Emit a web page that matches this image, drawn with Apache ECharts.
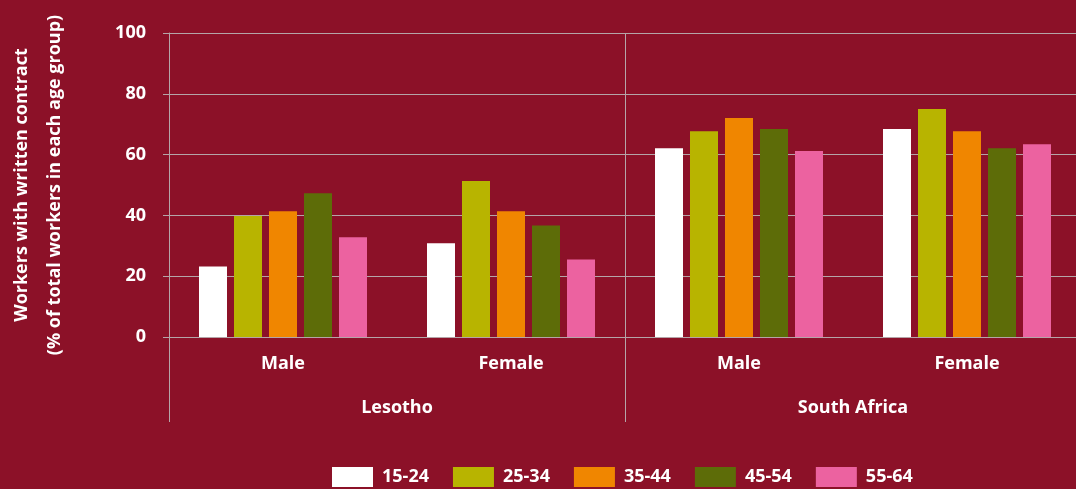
<!DOCTYPE html>
<html>
<head>
<meta charset="utf-8">
<style>
  html, body { margin: 0; padding: 0; background: #8c1128; }
  #chart { width: 1076px; height: 489px; }
</style>
<script src="https://cdn.jsdelivr.net/npm/echarts@6/dist/echarts.min.js"></script>
</head>
<body>
<div id="chart"></div>
<script>
const sexCategories = ['Male', 'Female', 'Male', 'Female'];
const countryCategories = ['Lesotho', 'South Africa'];
const ageGroups = ['15-24', '25-34', '35-44', '45-54', '55-64'];
const age15_24 = [23.2, 30.8, 62.1, 68.4];
const age25_34 = [39.8, 51.3, 67.7, 75.0];
const age35_44 = [41.4, 41.4, 72.0, 67.7];
const age45_54 = [47.3, 36.7, 68.4, 62.1];
const age55_64 = [32.8, 25.5, 61.2, 63.4];
const yTicks = { min: 0, max: 100, interval: 20 };

const colors = ['#ffffff', '#b8b400', '#f08600', '#5d6c08', '#ec62a0'];
const seriesValues = [age15_24, age25_34, age35_44, age45_54, age55_64];
const gridColor = '#b5a5a8';
const FONT = 'Open Sans';

const chart = echarts.init(document.getElementById('chart'));
chart.setOption({
  backgroundColor: '#8c1128',
  animation: false,
  textStyle: { fontFamily: FONT },
  color: colors,
  grid: { left: 169, top: 33, width: 912, height: 304, containLabel: false, outerBoundsMode: 'none' },
  legend: {
    left: 332, top: 467, padding: 0,
    itemWidth: 41, itemHeight: 20, itemGap: 24,
    icon: 'rect',
    textStyle: { color: '#ffffff', fontSize: 18, fontWeight: 'bold', fontFamily: FONT, padding: [0, 0, 0, 4] },
    data: ageGroups
  },
  xAxis: [
    {
      type: 'category',
      data: sexCategories,
      position: 'bottom',
      axisLine: { show: true, lineStyle: { color: gridColor, width: 1 } },
      axisTick: { show: false },
      axisLabel: { color: '#ffffff', fontSize: 18, fontWeight: 'bold', fontFamily: FONT, margin: 18 },
      splitLine: { show: false }
    },
    {
      type: 'category',
      data: countryCategories,
      position: 'bottom',
      axisLine: { show: false },
      axisTick: { show: true, length: 85, interval: 0, lineStyle: { color: gridColor, width: 1 } },
      axisLabel: { color: '#ffffff', fontSize: 18, fontWeight: 'bold', fontFamily: FONT, margin: 62 },
      splitLine: { show: true, interval: 0, lineStyle: { color: gridColor, width: 1 } }
    }
  ],
  yAxis: {
    type: 'value',
    min: yTicks.min, max: yTicks.max, interval: yTicks.interval,
    name: 'Workers with written contract\n(% of total workers in each age group)',
    nameLocation: 'middle',
    nameRotate: 90,
    nameGap: 98,
    nameTextStyle: { color: '#ffffff', fontSize: 18, fontWeight: 'bold', fontFamily: FONT, lineHeight: 33, align: 'center' },
    axisLine: { show: true, lineStyle: { color: gridColor, width: 1 } },
    axisTick: { show: true, length: 6, lineStyle: { color: gridColor, width: 1 } },
    axisLabel: { color: '#ffffff', fontSize: 18, fontWeight: 'bold', fontFamily: FONT, margin: 23 },
    splitLine: { show: true, lineStyle: { color: gridColor, width: 1 } }
  },
  series: ageGroups.map((name, i) => ({
    name: name,
    type: 'bar',
    xAxisIndex: 0,
    data: seriesValues[i],
    barWidth: 28,
    barGap: '25%',
    itemStyle: { color: colors[i] }
  }))
});
</script>
</body>
</html>
